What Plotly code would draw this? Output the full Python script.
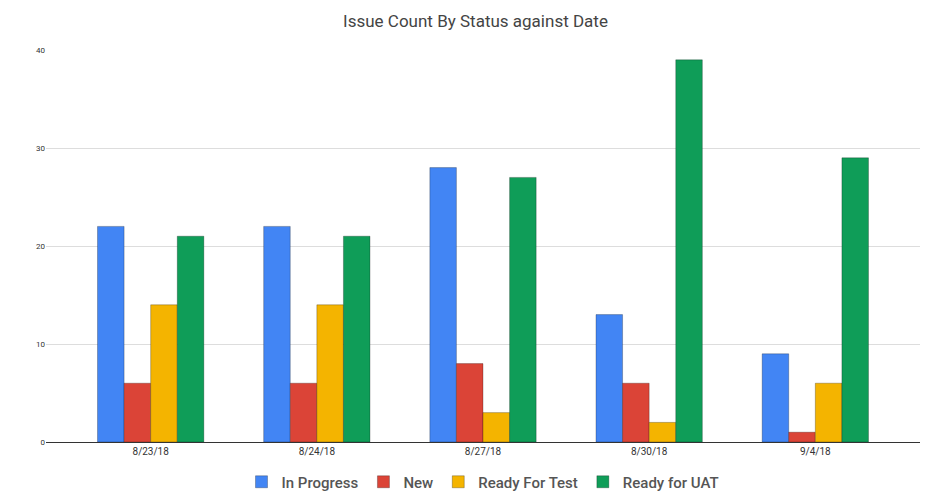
import plotly.graph_objects as go

dates = ["8/23/18", "8/24/18", "8/27/18", "8/30/18", "9/4/18"]
in_progress = [22, 22, 28, 13, 9]
new = [6, 6, 8, 6, 1]
ready_for_test = [14, 14, 3, 2, 6]
ready_for_uat = [21, 21, 27, 39, 29]

series = [
    ("In Progress", in_progress, "#4285F4"),
    ("New", new, "#DB4437"),
    ("Ready For Test", ready_for_test, "#F4B400"),
    ("Ready for UAT", ready_for_uat, "#0F9D58"),
]

fig = go.Figure()
for name, vals, color in series:
    fig.add_trace(go.Bar(x=dates, y=vals, name=name, marker_color=color,
                         marker_line_color="rgba(0,0,0,0.25)", marker_line_width=1))

fig.update_layout(
    width=935, height=502,
    barmode="group", bargap=0.36, bargroupgap=0,
    paper_bgcolor="white", plot_bgcolor="white",
    font=dict(family="Roboto", color="#222"),
    title=dict(text="Issue Count By Status against Date", x=0.5, xanchor="center",
               y=0.975, yanchor="middle", font=dict(size=17, color="#444")),
    margin=dict(l=38, r=23, t=42, b=59),
    legend=dict(orientation="h", x=0.5, xanchor="center", y=-0.06, yanchor="top",
                font=dict(size=15, color="#555", weight=500), itemwidth=30,
                tracegroupgap=0),
    showlegend=True,
)
fig.update_xaxes(range=[-0.63, 4.63], showline=True, linecolor="#333", linewidth=1,
                 tickfont=dict(size=10, color="#333"), ticks="")
fig.update_yaxes(range=[0, 40], dtick=10, gridcolor="#ddd", zeroline=False,
                 tickfont=dict(size=8, color="#333"), ticks="")

fig.write_html("out.html")
